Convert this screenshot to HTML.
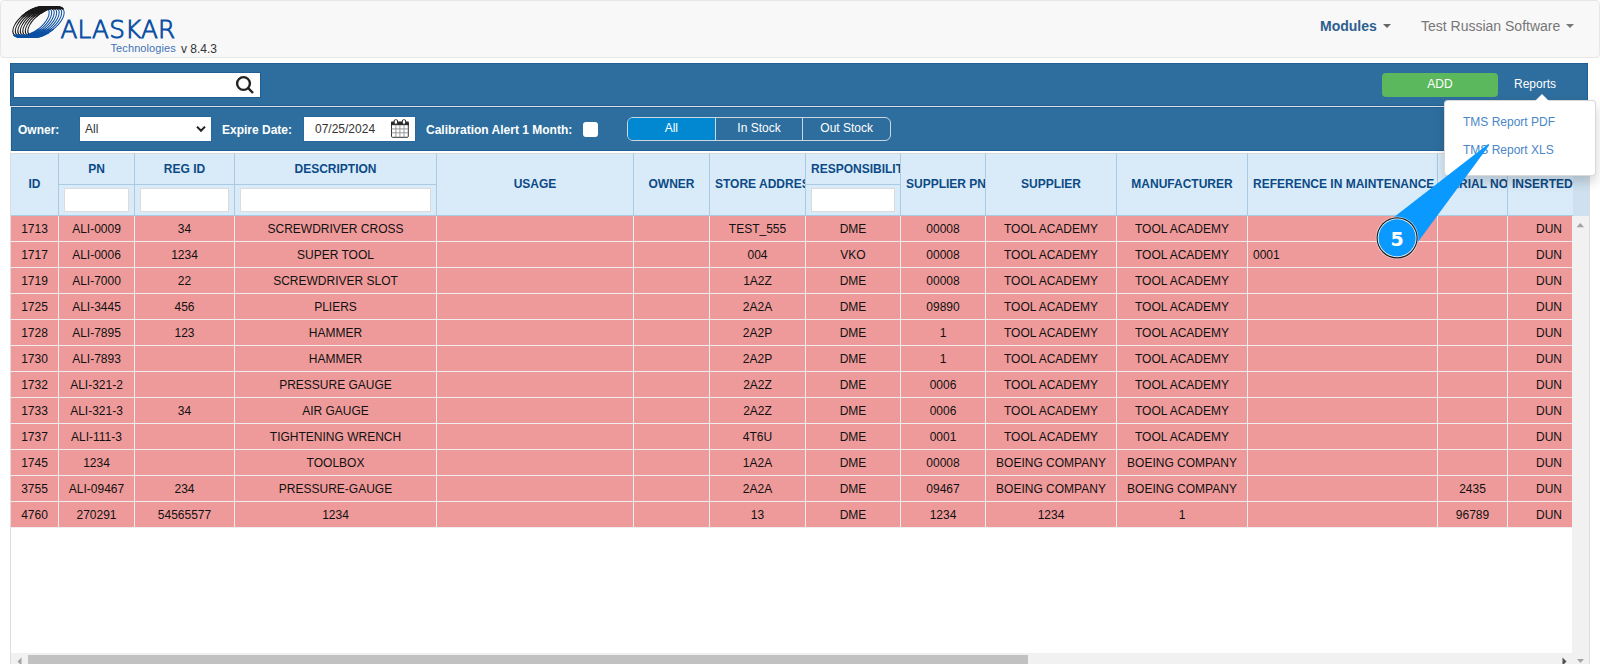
<!DOCTYPE html>
<html lang="en"><head><meta charset="utf-8"><title>ALASKAR Technologies - TMS</title>
<style>
*{box-sizing:border-box}
html,body{margin:0;padding:0}
body{width:1600px;height:664px;overflow:hidden;background:#fff;font-family:"Liberation Sans",sans-serif;font-size:12px;color:#222;position:relative}
.nav{position:absolute;left:0;top:0;width:1600px;height:58px;background:#f8f8f8;border:1px solid #e7e7e7;border-radius:4px}
.logo{position:absolute;left:0;top:0}
.brand{position:absolute;left:59.5px;top:15px;letter-spacing:.2px;font-family:"DejaVu Sans Light","DejaVu Sans",sans-serif;font-weight:200;font-size:24.7px;line-height:28px;color:#0b50a4;-webkit-text-stroke:0.95px #0b50a4;white-space:nowrap}
.tech{position:absolute;left:109.5px;top:41px;font-size:11px;line-height:13px;color:#3f73b7;letter-spacing:.1px;white-space:nowrap}
.ver{position:absolute;left:180px;top:40.5px;font-size:12px;line-height:14px;color:#333;white-space:nowrap}
.menu{position:absolute;top:16px;font-size:14px;line-height:18px;white-space:nowrap}
.menu .car{display:inline-block;width:0;height:0;border-left:4px solid transparent;border-right:4px solid transparent;border-top:4px solid currentColor;margin-left:2px;vertical-align:middle;position:relative;top:-1px}
.m1{left:1319px;color:#2d5f8e;font-weight:bold}
.m1 .car{color:#666}
.m2{left:1420px;color:#777}
.bar1{position:absolute;left:10px;top:63px;width:1578px;height:43px;background:#2e6e9e;border:1px solid #1f5f96}
.bar2{position:absolute;left:11px;top:107px;width:1578px;height:44px;background:#2e6e9e;border:1px solid #1f5f96}
.sep{position:absolute;left:10px;top:106px;width:1580px;height:47px;border:1px solid #f1eeec;border-top-color:#e2e2e2;border-bottom:0}
.search{position:absolute;left:14px;top:73px;width:246px;height:24px;background:#fff;outline:1px solid #1f5f96}
.search svg{position:absolute;left:220px;top:2px}
.add{position:absolute;left:1382px;top:73px;width:116px;height:24px;background:#5cb85c;border-radius:4px;color:#fff;text-align:center;line-height:23px;font-size:12px}
.rep{position:absolute;left:1514px;top:77px;color:#fff;font-size:12px;line-height:15px}
.lbl{position:absolute;top:123px;color:#fff;font-weight:bold;font-size:12px;line-height:15px;white-space:nowrap}
.sel{position:absolute;left:80px;top:117px;width:131px;height:24px;outline:1px solid #28689c;background:#fff;color:#333;line-height:25px;padding-left:5px}
.sel svg{position:absolute;right:4px;top:8px}
.date{position:absolute;left:304px;top:117px;width:111px;height:24px;outline:1px solid #28689c;background:#fff;color:#333;line-height:25px;padding-left:11px}
.date svg{position:absolute;left:87px;top:1px}
.chk{position:absolute;left:583px;top:122px;width:15px;height:15px;background:#fff;border-radius:3px}
.grp{position:absolute;left:627px;top:117px;width:264px;height:24px;border:1px solid #cbd8e4;border-radius:6px;overflow:hidden;display:flex}
.grp div{flex:1;text-align:center;color:#fff;line-height:20px;font-size:12px;border-left:1px solid #cbd8e4}
.grp div:first-child{border-left:0;background:#0288d1}
.grid{position:absolute;left:10px;top:153px;width:1580px;height:530px;border-left:1px solid #ddd;border-right:1px solid #ddd;overflow:hidden;background:#fff}
.hwrap{position:absolute;left:0;top:0;width:1578px;height:63px;background:#cfe1f0;overflow:hidden}
.hclip{position:absolute;left:0;top:0;width:1562px;height:63px;overflow:hidden;border-right:0}
table{border-collapse:separate;border-spacing:0;table-layout:fixed}
.ht1{width:1579px;height:63px}
th{height:63px;padding:0;background:#d9ebf9;border-right:1px solid #a9cbe4;border-top:1px solid #d9dbdd;border-bottom:1px solid #a9cbe4;color:#0c4a86;font-weight:bold;font-size:12px;overflow:hidden;white-space:nowrap;vertical-align:top}
th .hs{height:61px;line-height:60px;overflow:hidden}
th .ht{height:31px;line-height:30px;border-bottom:1px solid #a9cbe4;overflow:hidden}
th .hi{height:30px;padding:3px 5px 0 5px}
th input{display:block;width:100%;height:24px;border:1px solid #dcdcdc;background:#fff;padding:0;margin:0;border-radius:0;outline:0}
th.hc{text-align:center}
th .hs, th .ht{padding:0 5px}
.bwrap{position:absolute;left:0;top:63px;width:1561px;height:437px;overflow:hidden}
.bt{width:1579px}
td{height:26px;padding:1px 2px 0 2px;background:#ef9a9a;border-right:1px solid #eee;border-bottom:1px solid #eee;text-align:center;color:#111;font-size:12px;white-space:nowrap;overflow:hidden;line-height:24px}
td.l{text-align:left;padding-left:5px}
td.ins{text-align:left;padding-left:28px}
.vsb{position:absolute;left:1561px;top:63px;width:17px;height:437px;background:#f1f1f1}
.hsb{position:absolute;left:0;top:500px;width:1578px;height:17px;background:#f1f1f1}
.hthumb{position:absolute;left:17px;top:2px;width:1000px;height:13px;background:#c1c1c1}
.dd{position:absolute;left:1444px;top:100px;width:152px;height:76px;background:#fff;border:1px solid rgba(0,0,0,.15);border-radius:4px;box-shadow:0 6px 12px rgba(0,0,0,.175)}
.dd a{position:absolute;left:18px;color:#4a86c6;font-size:12px;line-height:15px;text-decoration:none;white-space:nowrap}
.ddar{position:absolute;left:1535px;top:94px;width:0;height:0;border-left:7px solid transparent;border-right:7px solid transparent;border-bottom:7px solid #fff}
.anno{position:absolute;left:1360px;top:130px}
</style></head><body>
<div class="nav">
<svg class="logo" width="80" height="45" viewBox="0 0 80 45" fill="none" stroke-width="1.0"><g transform="translate(30.00,20.95) rotate(-36.5)"><path d="M-21.3 0A21.3 10.2 0 0 0 21.3 0" stroke="#0b50a4"/><path d="M-21.3 0A21.3 10.2 0 0 0 21.3 0" stroke="#0b50a4" stroke-width="1.9" pathLength="100" stroke-dasharray="42 100"/><path d="M-21.3 0A21.3 10.2 0 0 0 21.3 0" stroke="#0b50a4" stroke-width="1.45" pathLength="100" stroke-dasharray="54 100"/><path d="M-21.3 0A21.3 10.2 0 0 1 21.3 0" stroke="#1a1a1a"/><path d="M-21.3 0A21.3 10.2 0 0 1 21.3 0" stroke="#1a1a1a" stroke-width="1.9" pathLength="100" stroke-dasharray="0 52 100"/><path d="M-21.3 0A21.3 10.2 0 0 1 21.3 0" stroke="#1a1a1a" stroke-width="1.45" pathLength="100" stroke-dasharray="0 40 100"/></g><g transform="translate(32.50,20.95) rotate(-36.5)"><path d="M-21.3 0A21.3 10.2 0 0 0 21.3 0" stroke="#0b50a4"/><path d="M-21.3 0A21.3 10.2 0 0 0 21.3 0" stroke="#0b50a4" stroke-width="1.9" pathLength="100" stroke-dasharray="42 100"/><path d="M-21.3 0A21.3 10.2 0 0 0 21.3 0" stroke="#0b50a4" stroke-width="1.45" pathLength="100" stroke-dasharray="54 100"/><path d="M-21.3 0A21.3 10.2 0 0 1 21.3 0" stroke="#1a1a1a"/><path d="M-21.3 0A21.3 10.2 0 0 1 21.3 0" stroke="#1a1a1a" stroke-width="1.9" pathLength="100" stroke-dasharray="0 52 100"/><path d="M-21.3 0A21.3 10.2 0 0 1 21.3 0" stroke="#1a1a1a" stroke-width="1.45" pathLength="100" stroke-dasharray="0 40 100"/></g><g transform="translate(35.00,20.95) rotate(-36.5)"><path d="M-21.3 0A21.3 10.2 0 0 0 21.3 0" stroke="#0b50a4"/><path d="M-21.3 0A21.3 10.2 0 0 0 21.3 0" stroke="#0b50a4" stroke-width="1.9" pathLength="100" stroke-dasharray="42 100"/><path d="M-21.3 0A21.3 10.2 0 0 0 21.3 0" stroke="#0b50a4" stroke-width="1.45" pathLength="100" stroke-dasharray="54 100"/><path d="M-21.3 0A21.3 10.2 0 0 1 21.3 0" stroke="#1a1a1a"/><path d="M-21.3 0A21.3 10.2 0 0 1 21.3 0" stroke="#1a1a1a" stroke-width="1.9" pathLength="100" stroke-dasharray="0 52 100"/><path d="M-21.3 0A21.3 10.2 0 0 1 21.3 0" stroke="#1a1a1a" stroke-width="1.45" pathLength="100" stroke-dasharray="0 40 100"/></g><g transform="translate(37.50,20.95) rotate(-36.5)"><path d="M-21.3 0A21.3 10.2 0 0 0 21.3 0" stroke="#0b50a4"/><path d="M-21.3 0A21.3 10.2 0 0 0 21.3 0" stroke="#0b50a4" stroke-width="1.9" pathLength="100" stroke-dasharray="42 100"/><path d="M-21.3 0A21.3 10.2 0 0 0 21.3 0" stroke="#0b50a4" stroke-width="1.45" pathLength="100" stroke-dasharray="54 100"/><path d="M-21.3 0A21.3 10.2 0 0 1 21.3 0" stroke="#1a1a1a"/><path d="M-21.3 0A21.3 10.2 0 0 1 21.3 0" stroke="#1a1a1a" stroke-width="1.9" pathLength="100" stroke-dasharray="0 52 100"/><path d="M-21.3 0A21.3 10.2 0 0 1 21.3 0" stroke="#1a1a1a" stroke-width="1.45" pathLength="100" stroke-dasharray="0 40 100"/></g><g transform="translate(40.00,20.95) rotate(-36.5)"><path d="M-21.3 0A21.3 10.2 0 0 0 21.3 0" stroke="#0b50a4"/><path d="M-21.3 0A21.3 10.2 0 0 0 21.3 0" stroke="#0b50a4" stroke-width="1.9" pathLength="100" stroke-dasharray="42 100"/><path d="M-21.3 0A21.3 10.2 0 0 0 21.3 0" stroke="#0b50a4" stroke-width="1.45" pathLength="100" stroke-dasharray="54 100"/><path d="M-21.3 0A21.3 10.2 0 0 1 21.3 0" stroke="#1a1a1a"/><path d="M-21.3 0A21.3 10.2 0 0 1 21.3 0" stroke="#1a1a1a" stroke-width="1.9" pathLength="100" stroke-dasharray="0 52 100"/><path d="M-21.3 0A21.3 10.2 0 0 1 21.3 0" stroke="#1a1a1a" stroke-width="1.45" pathLength="100" stroke-dasharray="0 40 100"/></g><g transform="translate(42.50,20.95) rotate(-36.5)"><path d="M-21.3 0A21.3 10.2 0 0 0 21.3 0" stroke="#0b50a4"/><path d="M-21.3 0A21.3 10.2 0 0 0 21.3 0" stroke="#0b50a4" stroke-width="1.9" pathLength="100" stroke-dasharray="42 100"/><path d="M-21.3 0A21.3 10.2 0 0 0 21.3 0" stroke="#0b50a4" stroke-width="1.45" pathLength="100" stroke-dasharray="54 100"/><path d="M-21.3 0A21.3 10.2 0 0 1 21.3 0" stroke="#1a1a1a"/><path d="M-21.3 0A21.3 10.2 0 0 1 21.3 0" stroke="#1a1a1a" stroke-width="1.9" pathLength="100" stroke-dasharray="0 52 100"/><path d="M-21.3 0A21.3 10.2 0 0 1 21.3 0" stroke="#1a1a1a" stroke-width="1.45" pathLength="100" stroke-dasharray="0 40 100"/></g><g transform="translate(45.00,20.95) rotate(-36.5)"><path d="M-21.3 0A21.3 10.2 0 0 0 21.3 0" stroke="#0b50a4"/><path d="M-21.3 0A21.3 10.2 0 0 0 21.3 0" stroke="#0b50a4" stroke-width="1.9" pathLength="100" stroke-dasharray="42 100"/><path d="M-21.3 0A21.3 10.2 0 0 0 21.3 0" stroke="#0b50a4" stroke-width="1.45" pathLength="100" stroke-dasharray="54 100"/><path d="M-21.3 0A21.3 10.2 0 0 1 21.3 0" stroke="#1a1a1a"/><path d="M-21.3 0A21.3 10.2 0 0 1 21.3 0" stroke="#1a1a1a" stroke-width="1.9" pathLength="100" stroke-dasharray="0 52 100"/><path d="M-21.3 0A21.3 10.2 0 0 1 21.3 0" stroke="#1a1a1a" stroke-width="1.45" pathLength="100" stroke-dasharray="0 40 100"/></g></svg>
<div class="brand">ALASKAR</div>
<div class="tech">Technologies</div>
<div class="ver">v 8.4.3</div>
<div class="menu m1">Modules <span class="car"></span></div>
<div class="menu m2">Test Russian Software <span class="car"></span></div>
</div>
<div class="bar1"></div><div class="sep"></div><div class="bar2"></div>
<div class="search"><svg width="22" height="22" viewBox="0 0 22 22" fill="none" stroke="#222" stroke-width="2.4"><circle cx="9.5" cy="8.5" r="6.4"/><path d="M14.2 13.2L19 18" stroke-linecap="butt"/></svg></div>
<div class="add">ADD</div>
<div class="rep">Reports</div>
<div class="lbl" style="left:18px">Owner:</div>
<div class="sel">All<svg width="12" height="8" viewBox="0 0 12 8" fill="none" stroke="#222" stroke-width="2"><path d="M2 1.6L6 5.8L10 1.6"/></svg></div>
<div class="lbl" style="left:222px">Expire Date:</div>
<div class="date">07/25/2024<svg width="20" height="21" viewBox="0 0 20 21"><rect x="0.5" y="4.2" width="16.8" height="15.1" rx="1" fill="#fff" stroke="#333"/><rect x="0" y="3.7" width="17.8" height="3.5" fill="#2b2b2b"/><rect x="3.2" y="1.7" width="3.3" height="4.5" rx="1.3" fill="#fff" stroke="#2b2b2b"/><rect x="11.3" y="1.7" width="3.3" height="4.5" rx="1.3" fill="#fff" stroke="#2b2b2b"/><path d="M4.9 7.1V19.3M8.9 7.1V19.3M13 7.1V19.3M0.5 10.9H17.3M0.5 14.8H17.3" stroke="#8f8f8f" stroke-width="0.9" fill="none"/></svg></div>
<div class="lbl" style="left:426px">Calibration Alert 1 Month:</div>
<div class="chk"></div>
<div class="grp"><div>All</div><div>In Stock</div><div>Out Stock</div></div>
<div class="grid">
 <div class="hwrap"><div class="hclip"><table class="ht1"><tr><th style="width:48px" class="hc"><div class="hs"><span>ID</span></div></th><th style="width:76px" class="hc hf"><div class="ht"><span>PN</span></div><div class="hi"><input type="text"></div></th><th style="width:100px" class="hc hf"><div class="ht"><span>REG ID</span></div><div class="hi"><input type="text"></div></th><th style="width:202px" class="hc hf"><div class="ht"><span>DESCRIPTION</span></div><div class="hi"><input type="text"></div></th><th style="width:197px" class="hc"><div class="hs"><span>USAGE</span></div></th><th style="width:76px" class="hc"><div class="hs"><span>OWNER</span></div></th><th style="width:96px" class="hl"><div class="hs"><span>STORE ADDRESS</span></div></th><th style="width:95px" class="hl hf"><div class="ht"><span>RESPONSIBILITY</span></div><div class="hi"><input type="text"></div></th><th style="width:85px" class="hl"><div class="hs"><span>SUPPLIER PN</span></div></th><th style="width:131px" class="hc"><div class="hs"><span>SUPPLIER</span></div></th><th style="width:131px" class="hc"><div class="hs"><span>MANUFACTURER</span></div></th><th style="width:190px" class="hl"><div class="hs"><span>REFERENCE IN MAINTENANCE</span></div></th><th style="width:70px" class="hc"><div class="hs"><span>SERIAL NO</span></div></th><th style="width:82px" class="hl"><div class="hs" style="padding-left:4px"><span>INSERTED BY</span></div></th></tr></table></div></div>
 <div class="bwrap"><table class="bt"><colgroup><col style="width:48px"><col style="width:76px"><col style="width:100px"><col style="width:202px"><col style="width:197px"><col style="width:76px"><col style="width:96px"><col style="width:95px"><col style="width:85px"><col style="width:131px"><col style="width:131px"><col style="width:190px"><col style="width:70px"><col style="width:82px"></colgroup>
<tr><td>1713</td><td>ALI-0009</td><td>34</td><td>SCREWDRIVER CROSS</td><td></td><td></td><td>TEST_555</td><td>DME</td><td>00008</td><td>TOOL ACADEMY</td><td>TOOL ACADEMY</td><td class="l"></td><td></td><td class="ins">DUN</td></tr>
<tr><td>1717</td><td>ALI-0006</td><td>1234</td><td>SUPER TOOL</td><td></td><td></td><td>004</td><td>VKO</td><td>00008</td><td>TOOL ACADEMY</td><td>TOOL ACADEMY</td><td class="l">0001</td><td></td><td class="ins">DUN</td></tr>
<tr><td>1719</td><td>ALI-7000</td><td>22</td><td>SCREWDRIVER SLOT</td><td></td><td></td><td>1A2Z</td><td>DME</td><td>00008</td><td>TOOL ACADEMY</td><td>TOOL ACADEMY</td><td class="l"></td><td></td><td class="ins">DUN</td></tr>
<tr><td>1725</td><td>ALI-3445</td><td>456</td><td>PLIERS</td><td></td><td></td><td>2A2A</td><td>DME</td><td>09890</td><td>TOOL ACADEMY</td><td>TOOL ACADEMY</td><td class="l"></td><td></td><td class="ins">DUN</td></tr>
<tr><td>1728</td><td>ALI-7895</td><td>123</td><td>HAMMER</td><td></td><td></td><td>2A2P</td><td>DME</td><td>1</td><td>TOOL ACADEMY</td><td>TOOL ACADEMY</td><td class="l"></td><td></td><td class="ins">DUN</td></tr>
<tr><td>1730</td><td>ALI-7893</td><td></td><td>HAMMER</td><td></td><td></td><td>2A2P</td><td>DME</td><td>1</td><td>TOOL ACADEMY</td><td>TOOL ACADEMY</td><td class="l"></td><td></td><td class="ins">DUN</td></tr>
<tr><td>1732</td><td>ALI-321-2</td><td></td><td>PRESSURE GAUGE</td><td></td><td></td><td>2A2Z</td><td>DME</td><td>0006</td><td>TOOL ACADEMY</td><td>TOOL ACADEMY</td><td class="l"></td><td></td><td class="ins">DUN</td></tr>
<tr><td>1733</td><td>ALI-321-3</td><td>34</td><td>AIR GAUGE</td><td></td><td></td><td>2A2Z</td><td>DME</td><td>0006</td><td>TOOL ACADEMY</td><td>TOOL ACADEMY</td><td class="l"></td><td></td><td class="ins">DUN</td></tr>
<tr><td>1737</td><td>ALI-111-3</td><td></td><td>TIGHTENING WRENCH</td><td></td><td></td><td>4T6U</td><td>DME</td><td>0001</td><td>TOOL ACADEMY</td><td>TOOL ACADEMY</td><td class="l"></td><td></td><td class="ins">DUN</td></tr>
<tr><td>1745</td><td>1234</td><td></td><td>TOOLBOX</td><td></td><td></td><td>1A2A</td><td>DME</td><td>00008</td><td>BOEING COMPANY</td><td>BOEING COMPANY</td><td class="l"></td><td></td><td class="ins">DUN</td></tr>
<tr><td>3755</td><td>ALI-09467</td><td>234</td><td>PRESSURE-GAUGE</td><td></td><td></td><td>2A2A</td><td>DME</td><td>09467</td><td>BOEING COMPANY</td><td>BOEING COMPANY</td><td class="l"></td><td>2435</td><td class="ins">DUN</td></tr>
<tr><td>4760</td><td>270291</td><td>54565577</td><td>1234</td><td></td><td></td><td>13</td><td>DME</td><td>1234</td><td>1234</td><td>1</td><td class="l"></td><td>96789</td><td class="ins">DUN</td></tr>
</table></div>
 <div class="vsb"><svg width="17" height="438" viewBox="0 0 17 438"><path d="M4.6 11.2L8.3 6.9L12 11.2Z" fill="#a3a3a3"/></svg></div>
 <div class="hsb"><div class="hthumb"></div><svg style="position:absolute;left:0;top:0" width="1578" height="17" viewBox="0 0 1578 17"><path d="M10.5 4.5L6.5 8.5L10.5 12.5Z" fill="#a3a3a3"/><path d="M1551.5 4.5L1555.5 8.5L1551.5 12.5Z" fill="#505050"/><path d="M1566 6L1569.5 10L1573 6Z" fill="#a3a3a3"/></svg></div>
</div>
<div class="dd"><a style="top:14px">TMS Report PDF</a><a style="top:42px">TMS Report XLS</a></div>
<div class="ddar"></div>
<svg class="anno" width="140" height="140" viewBox="1360 130 140 140"><path d="M1488.23 143.94L1489.37 145.06L1411.1 251.3L1384.1 224.7Z" fill="#0a99ff"/><circle cx="1397.1" cy="237.9" r="21.3" fill="#fff" fill-opacity=".65"/><circle cx="1397.1" cy="237.9" r="20.6" fill="#1f1f1f"/><circle cx="1397.1" cy="237.9" r="19.4" fill="#fff"/><circle cx="1397.1" cy="237.9" r="18.6" fill="#0a99ff"/><text x="1397.2" y="246" text-anchor="middle" font-family="DejaVu Sans, sans-serif" font-weight="bold" font-size="19" fill="#fff">5</text></svg>
</body></html>
